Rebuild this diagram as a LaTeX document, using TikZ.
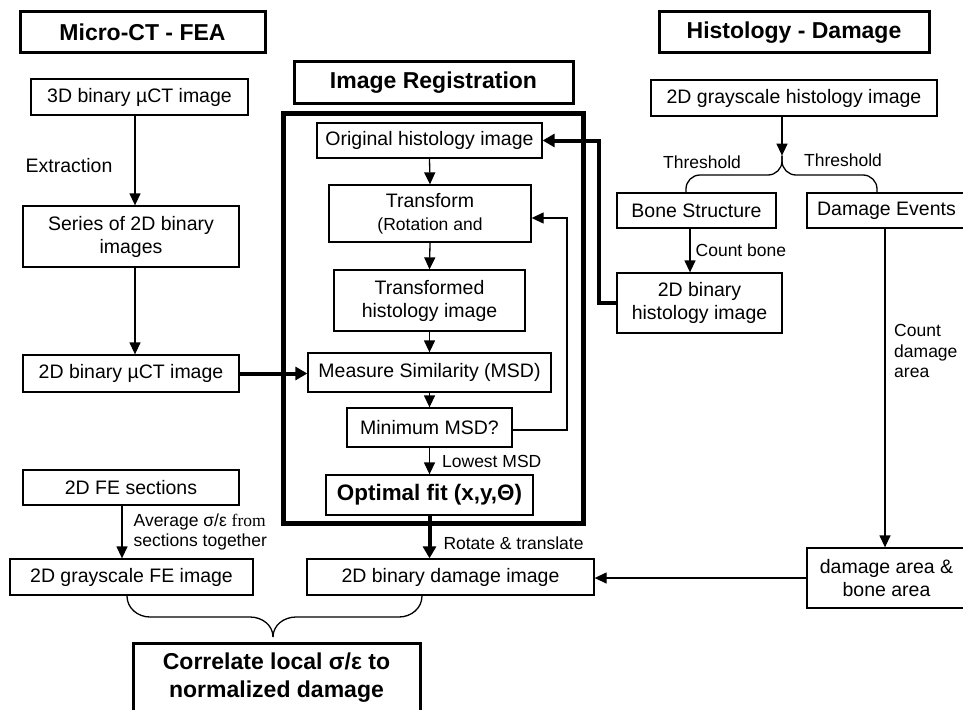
\documentclass[tikz,border=0pt]{standalone}
\usepackage{fontspec}
\setmainfont{Liberation Sans}
\newfontfamily\serifx{Liberation Serif}
\usetikzlibrary{arrows.meta}
\newcommand\fsbox{\fontsize{19.5}{23}\selectfont}
\newcommand\fslab{\fontsize{17.5}{20.5}\selectfont}
\newcommand\fshead{\fontsize{23}{28}\selectfont\bfseries}
\begin{document}
\begin{tikzpicture}[x=1pt,y=-1pt,
 box/.style={draw, line width=1.3pt, inner sep=0pt, align=center, font=\fsbox},
 head/.style={draw, line width=3pt, inner sep=0pt, font=\fshead},
 lab/.style={inner sep=0pt, font=\fslab, align=left},
 arr/.style={line width=1.3pt, -{Triangle[length=12pt,width=11pt]}},
 tarr/.style={line width=4pt, -{Triangle[length=12pt,width=13pt]}},
 thinline/.style={line width=1.3pt},
]
\useasboundingbox (0,0) rectangle (963,709);

% headers
\node[head, minimum width=245pt, minimum height=41pt] (h1) at (142.5,32.5) {Micro-CT - FEA};
\node[head, minimum width=279pt, minimum height=41pt] (h2) at (433.5,82.5) {Image Registration};
\node[head, minimum width=270pt, minimum height=41pt] (h3) at (794,32.5) {Histology - Damage};

% registration frame
\node[draw, line width=5pt, minimum width=300pt, minimum height=410pt, inner sep=0pt] (reg) at (433,318) {};

% left column
\node[box, minimum width=217pt, minimum height=36pt] (a1) at (139.5,97) {3D binary µCT image};
\node[box, minimum width=216pt, minimum height=61pt] (a2) at (131,236.5) {Series of 2D binary\\images};
\node[box, minimum width=216pt, minimum height=37pt] (a3) at (131,373.5) {2D binary µCT image};
\node[box, minimum width=216pt, minimum height=35pt] (a4) at (131,487.5) {2D FE sections};
\node[box, minimum width=243pt, minimum height=36pt] (a5) at (131.5,577) {2D grayscale FE image};
\node[draw, line width=3pt, anchor=north, minimum width=287pt, inner xsep=0pt, inner ysep=9pt, font=\fshead, align=center] (corr) at (276.5,642) {Correlate local σ/ε to\\normalized damage};

% centre column
\node[box, minimum width=225pt, minimum height=35pt] (b1) at (429.5,140.5) {Original histology image};
\node[box, minimum width=202pt, minimum height=57pt] (b2) at (430,213.5) {Transform\\{\fslab (Rotation and}};
\node[box, minimum width=191pt, minimum height=61pt] (b3) at (429.5,300.5) {Transformed\\histology image};
\node[box, minimum width=243pt, minimum height=39pt] (b4) at (429.5,372.5) {Measure Similarity (MSD)};
\node[box, minimum width=165pt, minimum height=39pt] (b5) at (429.5,427.5) {Minimum MSD?};
\node[box, minimum width=207pt, minimum height=40pt, font=\fontsize{22.4}{26}\selectfont\bfseries] (b6) at (429.5,495) {Optimal fit (x,y,Θ)};
\node[box, minimum width=287pt, minimum height=36pt] (b7) at (450.5,577) {2D binary damage image};

% right column
\node[box, minimum width=286pt, minimum height=36pt] (c1) at (794,98) {2D grayscale histology image};
\node[box, minimum width=159pt, minimum height=35pt] (c2) at (696.5,210.5) {Bone Structure};
\node[box, minimum width=159pt, minimum height=35pt] (c3) at (886.5,210.5) {Damage Events};
\node[box, minimum width=165pt, minimum height=60pt] (c4) at (699.5,303) {2D binary\\histology image};
\node[box, minimum width=159pt, minimum height=60pt] (c5) at (886.5,578) {damage area \&\\bone area};

% labels
\node[inner sep=0pt, font=\fsbox] (lext) at (69,166) {Extraction};
\node[lab] (lthl) at (702,162) {Threshold};
\node[lab] (lthr) at (843,160) {Threshold};
\node[lab, anchor=west] (lcount) at (894,351) {Count\\damage\\area};

% left connectors
\draw[arr] ([xshift=-4.5pt]a1.south) -- ([xshift=4pt]a2.north);
\draw[arr] ([xshift=4pt]a2.south) -- ([xshift=4pt]a3.north);
\draw[tarr] (a3.east) -- (a3.east -| b4.west);
\draw[arr] ([xshift=-9pt]a4.south) -- ([xshift=-9.5pt]a5.north)
  node[lab, midway, anchor=west, xshift=11pt] (lavg) {Average σ/ε {\serifx from}\\sections together};

% centre connectors
\draw[arr] (b1.south) -- (b2.north);
\draw[arr] (b2.south) -- (b3.north);
\draw[arr] (b3.south) -- (b4.north);
\draw[arr] (b4.south) -- (b5.north);
\draw[arr] (b5.south) -- (b6.north)
  node[lab, midway, anchor=west, xshift=12pt] (llow) {Lowest MSD};
\coordinate (fb) at (567,218);
\draw[thinline, -{Triangle[length=12pt,width=11pt]}] ([yshift=-2.5pt]b5.east) -| (fb) -- (fb -| b2.east);
\draw[tarr] (b6.south) -- (b6.south |- b7.north)
  node[lab, pos=0.65, anchor=west, xshift=12pt] (lrot) {Rotate \& translate};

% right connectors
\draw[arr] ([xshift=-12pt]c1.south) -- ++(0,39) coordinate (br);
\coordinate (bl) at (686,175);
\coordinate (brr) at (877,175);
\draw[thinline, rounded corners=14pt] (br) |- (bl) -- (c2.north -| bl);
\draw[thinline, rounded corners=14pt] (br) |- (brr) -- (c3.north -| brr);
\draw[arr] ([xshift=-6.5pt]c2.south) -- ([xshift=-9.5pt]c4.north)
  node[lab, midway, anchor=west, xshift=5pt] (lbone) {Count bone};
\draw[tarr] (c4.west) -- ++(-17,0) |- (b1.east);
\draw[arr] ([xshift=-1.5pt]c3.south) -- ([xshift=-1.5pt]c5.north);
\draw[arr] (c5.west) -- (c5.west -| b7.east);

% bottom brace
\coordinate (bs1) at (127,596);
\coordinate (bs2) at (422,596);
\coordinate (btip) at (273,637);
\draw[thinline] (bs1) to[out=-90,in=180] (150,617) -- (250,617) to[out=0,in=90] (btip);
\draw[thinline] (bs2) to[out=-90,in=0] (399,617) -- (296,617) to[out=180,in=90] (btip);
\end{tikzpicture}
\end{document}
